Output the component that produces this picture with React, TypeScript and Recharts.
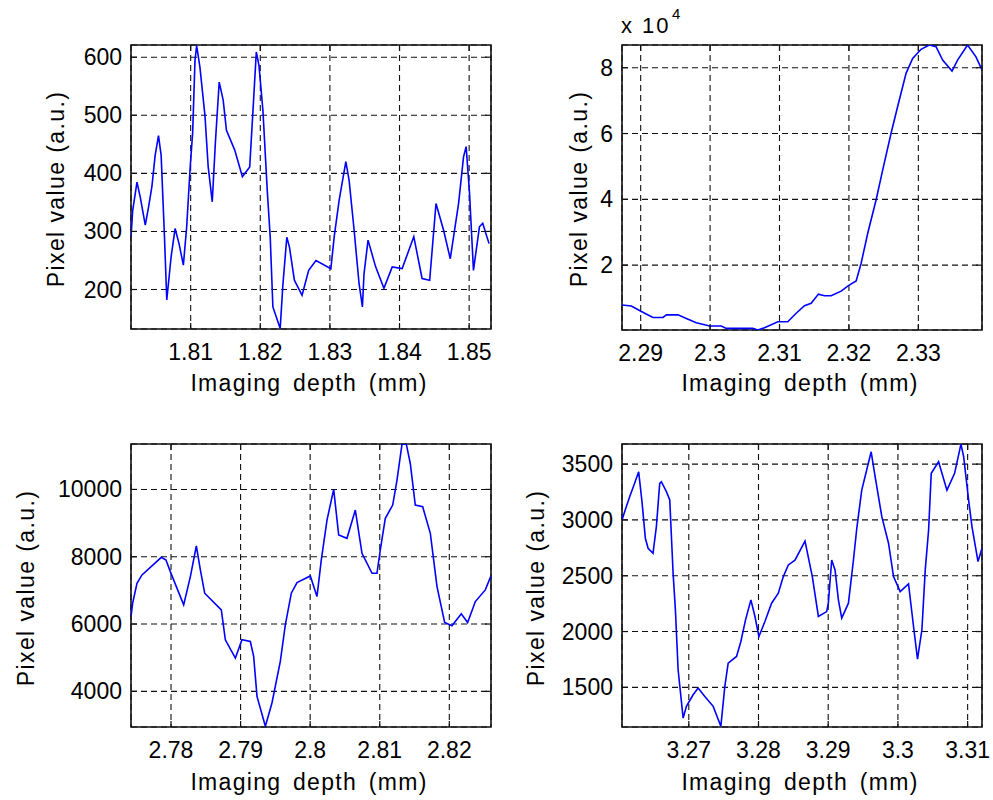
import React from 'react';
import { LineChart, Line, XAxis, YAxis, CartesianGrid, ReferenceArea } from 'recharts';

// ---------- Panel A (top-left) ----------
const depthA = [
  1.80143, 1.80167, 1.80229, 1.80276, 1.80348, 1.80395, 1.80443, 1.8049, 1.80538, 1.80576,
  1.80624, 1.80657, 1.80719, 1.80776, 1.80833, 1.80895, 1.80943, 1.8099, 1.81029, 1.81062,
  1.81086, 1.81133, 1.81205, 1.81252, 1.8131, 1.81357, 1.8141, 1.81467, 1.81514, 1.81633,
  1.81743, 1.81848, 1.81895, 1.81943, 1.81981, 1.82038, 1.821, 1.82143, 1.82181, 1.82286,
  1.82324, 1.82381, 1.82419, 1.8249, 1.826, 1.82695, 1.828, 1.83014, 1.83062, 1.83133,
  1.83229, 1.83276, 1.83348, 1.83419, 1.83467, 1.8349, 1.83548, 1.83657, 1.83776, 1.83895,
  1.84038, 1.84205, 1.84324, 1.84433, 1.84524, 1.84633, 1.84729, 1.84848, 1.84919, 1.84957,
  1.85005, 1.85062, 1.85148, 1.85195, 1.85286,
];
const valueA = [
  290, 336, 385, 359, 311, 342, 377, 431, 465, 431,
  290, 182, 256, 305, 279, 242, 308, 405, 471, 594,
  620, 583, 500, 411, 351, 457, 557, 526, 474, 440,
  394, 411, 508, 609, 586, 508, 371, 290, 170, 133,
  207, 290, 273, 216, 190, 233, 250, 236, 291, 354,
  420, 388, 302, 210, 170, 227, 285, 239, 202, 239,
  236, 291, 219, 216, 348, 302, 253, 348, 428, 446,
  367, 233, 308, 314, 279,
];
const xTicksA = [1.81, 1.82, 1.83, 1.84, 1.85];
const yTicksA = [200, 300, 400, 500, 600];
const xDomainA = [1.80143, 1.85314];
const yDomainA = [132, 621];

// ---------- Panel B (top-right) ----------
const depthB = [
  2.28731, 2.28866, 2.2901, 2.29177, 2.29321, 2.2937, 2.29537, 2.29658, 2.29801, 2.29993,
  2.30161, 2.30233, 2.30616, 2.30688, 2.30784, 2.30976, 2.31119, 2.3124, 2.3136, 2.31456,
  2.31561, 2.31647, 2.31744, 2.31888, 2.31993, 2.32104, 2.32176, 2.32271, 2.32391, 2.32486,
  2.32607, 2.32702, 2.32823, 2.32918, 2.33039, 2.33158, 2.33255, 2.3335, 2.33485, 2.33565,
  2.33709, 2.3383, 2.33917,
];
const valueB = [
  7900, 7600, 5900, 4100, 4100, 4900, 4900, 3800, 2500, 1500,
  1500, 800, 800, 300, 1000, 2800, 2800, 5400, 7700, 8400,
  11200, 10700, 10700, 12100, 13800, 15200, 20600, 29700, 39800, 48900,
  60100, 68200, 78300, 82800, 85600, 86900, 86400, 82300, 79000, 82300,
  86900, 83300, 79300,
];
const xTicksB = [2.29, 2.3, 2.31, 2.32, 2.33];
const yTicksB = [20000, 40000, 60000, 80000];
const xDomainB = [2.28731, 2.33917];
const yDomainB = [300, 86900];

// ---------- Panel C (bottom-left) ----------
const depthC = [
  2.77425, 2.77449, 2.77511, 2.77583, 2.77861, 2.77928, 2.7799, 2.78182, 2.78278, 2.78364,
  2.78422, 2.78484, 2.78723, 2.78781, 2.78925, 2.7902, 2.7914, 2.79188, 2.79236, 2.79356,
  2.79451, 2.79571, 2.79643, 2.79729, 2.79811, 2.80002, 2.80098, 2.8016, 2.80242, 2.80338,
  2.8041, 2.80529, 2.80649, 2.80745, 2.80889, 2.8096, 2.81008, 2.8108, 2.81186, 2.81248,
  2.8132, 2.81382, 2.81439, 2.81511, 2.81617, 2.81727, 2.81823, 2.81933, 2.82038, 2.82172,
  2.82263, 2.82374, 2.82517, 2.82599,
];
const valueC = [
  6223, 6619, 7212, 7459, 7983, 7904, 7558, 6570, 7410, 8319,
  7608, 6916, 6421, 5532, 4988, 5532, 5482, 5037, 3851, 2961,
  3653, 4889, 5976, 6916, 7232, 7430, 6817, 7904, 9090, 10000,
  8646, 8547, 9387, 8102, 7509, 7509, 8201, 9140, 9535, 10277,
  11345, 11345, 10771, 9535, 9486, 8695, 7113, 6046, 5947, 6303,
  6046, 6668, 7014, 7430,
];
const xTicksC = [2.78, 2.79, 2.8, 2.81, 2.82];
const yTicksC = [4000, 6000, 8000, 10000];
const xDomainC = [2.77425, 2.82599];
const yDomainC = [2940, 11350];

// ---------- Panel D (bottom-right) ----------
const depthD = [
  3.26042, 3.2608, 3.26152, 3.26214, 3.26281, 3.26329, 3.26377, 3.26416, 3.26487, 3.26535,
  3.26583, 3.26607, 3.26679, 3.26727, 3.26775, 3.26808, 3.26847, 3.26919, 3.26966, 3.27062,
  3.27134, 3.2723, 3.2735, 3.2746, 3.27517, 3.27565, 3.27685, 3.27747, 3.27814, 3.27891,
  3.27949, 3.28006, 3.28092, 3.28188, 3.28284, 3.28356, 3.28428, 3.28523, 3.28667, 3.28772,
  3.28859, 3.28978, 3.29002, 3.2905, 3.29098, 3.29146, 3.29194, 3.2929, 3.29362, 3.2941,
  3.29481, 3.29616, 3.29673, 3.29769, 3.29865, 3.29937, 3.30032, 3.30152, 3.30224, 3.30281,
  3.30344, 3.30392, 3.3044, 3.30478, 3.30583, 3.30703, 3.30813, 3.30904, 3.30943, 3.31014,
  3.31062, 3.31149, 3.31206,
];
const valueD = [
  3000, 3074, 3208, 3312, 3431, 3163, 2835, 2746, 2701, 2940,
  3327, 3342, 3253, 3178, 2522, 2194, 1658, 1225, 1330, 1434,
  1494, 1419, 1330, 1151, 1509, 1717, 1777, 1911, 2105, 2284,
  2135, 1956, 2090, 2254, 2343, 2492, 2597, 2640, 2810, 2492,
  2135, 2179, 2254, 2641, 2552, 2284, 2120, 2254, 2641, 2925,
  3267, 3610, 3387, 3029, 2791, 2492, 2358, 2427, 2045, 1753,
  2016, 2552, 2910, 3417, 3521, 3267, 3417, 3679, 3566, 3178,
  2940, 2627, 2746,
];
const xTicksD = [3.27, 3.28, 3.29, 3.3, 3.31];
const yTicksD = [1500, 2000, 2500, 3000, 3500];
const xDomainD = [3.26042, 3.31206];
const yDomainD = [1145, 3680];

const xLabelText = 'Imaging depth (mm)';
const yLabelText = 'Pixel value (a.u.)';

const FONT = '"Liberation Sans", Arial, Helvetica, sans-serif';
const TICK_FS = 23;
const Y_AXIS_W = 70;
const X_AXIS_H = 50;

const fmtX = (v: number) => String(Number(v.toFixed(2)));
const fmtY = (v: number) => String(v);
const fmtY4 = (v: number) => String(v / 10000);

type PanelData = {
  depth: number[];
  value: number[];
  xTicks: number[];
  yTicks: number[];
  xDomain: number[];
  yDomain: number[];
  yFmt: (v: number) => string;
};

type Layout = {
  chartX: number;
  chartY: number;
  w: number;
  h: number;
  plotL: number;
  plotT: number;
  plotW: number;
  plotH: number;
};

const panels: PanelData[] = [
  { depth: depthA, value: valueA, xTicks: xTicksA, yTicks: yTicksA, xDomain: xDomainA, yDomain: yDomainA, yFmt: fmtY },
  { depth: depthB, value: valueB, xTicks: xTicksB, yTicks: yTicksB, xDomain: xDomainB, yDomain: yDomainB, yFmt: fmtY4 },
  { depth: depthC, value: valueC, xTicks: xTicksC, yTicks: yTicksC, xDomain: xDomainC, yDomain: yDomainC, yFmt: fmtY },
  { depth: depthD, value: valueD, xTicks: xTicksD, yTicks: yTicksD, xDomain: xDomainD, yDomain: yDomainD, yFmt: fmtY },
];

const layouts: Layout[] = [
  { chartX: 0, chartY: 0, w: 496, h: 400, plotL: 131, plotT: 45, plotW: 360, plotH: 284 },
  { chartX: 496, chartY: 0, w: 497, h: 400, plotL: 622, plotT: 45, plotW: 360, plotH: 285 },
  { chartX: 0, chartY: 400, w: 496, h: 400, plotL: 131, plotT: 444, plotW: 360, plotH: 283 },
  { chartX: 496, chartY: 400, w: 497, h: 400, plotL: 622, plotT: 444, plotW: 360, plotH: 283 },
];

const yLabelPos = [
  { x: 64, y: 189 },
  { x: 587, y: 189 },
  { x: 34, y: 588 },
  { x: 544, y: 588 },
];
const xLabelPos = [
  { x: 309, y: 391 },
  { x: 800, y: 391 },
  { x: 309, y: 790 },
  { x: 800, y: 790 },
];

function Panel({ p, L }: { p: PanelData; L: Layout }) {
  const data = p.depth.map((d, i) => ({ d, v: p.value[i] }));
  const left = L.plotL - L.chartX;
  const top = L.plotT - L.chartY;
  const right = left + L.plotW;
  const bottom = top + L.plotH;
  const margin = {
    left: left - Y_AXIS_W,
    top,
    right: L.w - right,
    bottom: L.h - bottom - X_AXIS_H,
  };

  const renderYTick = (props: any) => {
    const { y, payload } = props;
    return (
      <g>
        <line x1={left} x2={left + 6} y1={y} y2={y} stroke="#111" strokeWidth={1.2} />
        <line x1={right - 6} x2={right} y1={y} y2={y} stroke="#111" strokeWidth={1.2} />
        <text
          x={left - 9}
          y={y}
          textAnchor="end"
          dominantBaseline="central"
          fontSize={TICK_FS}
          fontFamily={FONT}
          fill="#000"
        >
          {p.yFmt(payload.value)}
        </text>
      </g>
    );
  };

  const renderXTick = (props: any) => {
    const { x, payload } = props;
    return (
      <g>
        <line x1={x} x2={x} y1={bottom} y2={bottom - 6} stroke="#111" strokeWidth={1.2} />
        <line x1={x} x2={x} y1={top} y2={top + 6} stroke="#111" strokeWidth={1.2} />
        <text
          x={x}
          y={bottom + 31}
          textAnchor="middle"
          fontSize={TICK_FS}
          fontFamily={FONT}
          fill="#000"
        >
          {fmtX(payload.value)}
        </text>
      </g>
    );
  };

  return (
    <div style={{ position: 'absolute', left: L.chartX, top: L.chartY }}>
      <LineChart width={L.w} height={L.h} data={data} margin={margin}>
        <CartesianGrid stroke="#111" strokeDasharray="6 4" strokeWidth={1.1} />
        <XAxis
          dataKey="d"
          type="number"
          domain={p.xDomain}
          ticks={p.xTicks}
          allowDataOverflow
          height={X_AXIS_H}
          axisLine={false}
          tickLine={false}
          tick={renderXTick}
          interval={0}
        />
        <YAxis
          type="number"
          domain={p.yDomain}
          ticks={p.yTicks}
          allowDataOverflow
          width={Y_AXIS_W}
          axisLine={false}
          tickLine={false}
          tick={renderYTick}
          interval={0}
        />
        <Line
          dataKey="v"
          type="linear"
          stroke="#0000ff"
          strokeWidth={1.6}
          dot={false}
          activeDot={false}
          isAnimationActive={false}
        />
        <ReferenceArea
          x1={p.xDomain[0]}
          x2={p.xDomain[1]}
          y1={p.yDomain[0]}
          y2={p.yDomain[1]}
          fill="none"
          fillOpacity={0}
          stroke="#111"
          strokeWidth={1.6}
          ifOverflow="visible"
        />
      </LineChart>
    </div>
  );
}

export default function App() {
  return (
    <div
      style={{
        position: 'absolute',
        left: 0,
        top: 0,
        width: 993,
        height: 800,
        background: '#fff',
        overflow: 'hidden',
      }}
    >
      {panels.map((p, i) => (
        <Panel key={i} p={p} L={layouts[i]} />
      ))}
      <svg
        width={993}
        height={800}
        style={{ position: 'absolute', left: 0, top: 0, pointerEvents: 'none' }}
      >
        {yLabelPos.map((pos, i) => (
          <text
            key={'y' + i}
            transform={`translate(${pos.x},${pos.y}) rotate(-90)`}
            textAnchor="middle"
            fontSize={23}
            fontFamily={FONT}
            letterSpacing={1.4}
            fill="#000"
          >
            {yLabelText}
          </text>
        ))}
        {xLabelPos.map((pos, i) => (
          <text
            key={'x' + i}
            x={pos.x}
            y={pos.y}
            textAnchor="middle"
            fontSize={23}
            fontFamily={FONT}
            letterSpacing={1.3}
            wordSpacing={4}
            fill="#000"
          >
            {xLabelText}
          </text>
        ))}
        <text x={621} y={33} fontSize={22} fontFamily={FONT} letterSpacing={2} fill="#000">
          x 10
        </text>
        <text x={672} y={18.5} fontSize={15} fontFamily={FONT} fill="#000">
          4
        </text>
      </svg>
    </div>
  );
}
